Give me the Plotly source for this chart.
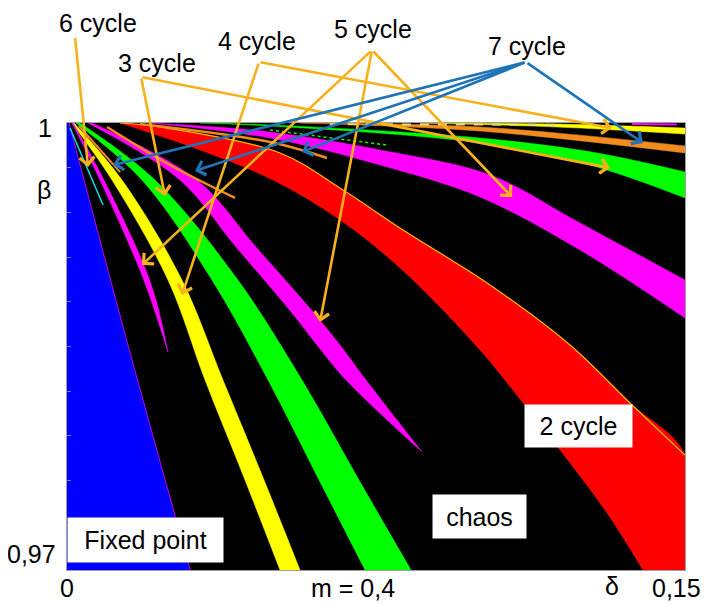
import plotly.graph_objects as go

# ---------------- data (delta, beta) ----------------
# Each region: upper/right boundary (a) and lower/left boundary (b), listed from top to bottom
fixed_a_d = [0.0005, 0.0145, 0.0299]
fixed_a_b = [1.0, 0.9854, 0.97]
fixed_b_d = [0.0, 0.0]
fixed_b_b = [1.0, 0.97]

c3_a_d = [0.0017, 0.01335, 0.02791, 0.03786, 0.04782, 0.05655]
c3_a_b = [1.0, 0.99617, 0.98946, 0.98275, 0.97604, 0.97]
c3_b_d = [0.00121, 0.01092, 0.02451, 0.0335, 0.0432, 0.0517]
c3_b_b = [1.0, 0.99617, 0.98946, 0.98275, 0.97604, 0.97]

c4_a_d = [0.00316, 0.02136, 0.0415, 0.05704, 0.07087, 0.0835]
c4_a_b = [1.0, 0.99617, 0.98946, 0.98275, 0.97604, 0.97]
c4_b_d = [0.00218, 0.0182, 0.03519, 0.04879, 0.06117, 0.07233]
c4_b_b = [1.0, 0.99617, 0.98946, 0.98275, 0.97604, 0.97]

c5s_a_d = [0.00146, 0.00898, 0.01845, 0.0216, 0.02451]
c5s_a_b = [1.0, 0.99617, 0.9906, 0.98812, 0.98463]
c5s_b_d = [0.00121, 0.00801, 0.01699, 0.02039, 0.02451]
c5s_b_b = [1.0, 0.99617, 0.9906, 0.98812, 0.98463]

c5m_a_d = [0.00607, 0.03155, 0.04587, 0.05995, 0.06626, 0.07257, 0.08617]
c5m_a_b = [1.0, 0.99617, 0.99168, 0.98725, 0.9851, 0.98275, 0.97792]
c5m_b_d = [0.0051, 0.02743, 0.04102, 0.05461, 0.06068, 0.06772, 0.08617]
c5m_b_b = [1.0, 0.99617, 0.99168, 0.98725, 0.9851, 0.98275, 0.97792]

c2_a_d = [0.01286, 0.02257, 0.0517, 0.06699, 0.08155, 0.10267, 0.12209, 0.13665, 0.15, 0.15]
c2_a_b = [1.0, 0.99973, 0.99799, 0.9955, 0.99282, 0.98913, 0.9851, 0.98121, 0.97772, 0.97]
c2_b_d = [0.01286, 0.03228, 0.05, 0.06626, 0.08083, 0.10024, 0.11068, 0.11966, 0.13107, 0.1398]
c2_b_b = [1.0, 0.99819, 0.99617, 0.99349, 0.99027, 0.98477, 0.98121, 0.97805, 0.97383, 0.97]

c5r_a_d = [0.02015, 0.04927, 0.07597, 0.10267, 0.12451, 0.15]
c5r_a_b = [1.0, 0.9994, 0.99819, 0.99651, 0.99329, 0.98946]
c5r_b_d = [0.02015, 0.04927, 0.07597, 0.10024, 0.12451, 0.15]
c5r_b_b = [1.0, 0.99899, 0.99718, 0.99503, 0.99148, 0.98691]

c4r_a_d = [0.03228, 0.04927, 0.10024, 0.12864, 0.15]
c4r_a_b = [1.0, 0.99987, 0.99899, 0.99799, 0.99671]
c4r_b_d = [0.03228, 0.04927, 0.10024, 0.12694, 0.15]
c4r_b_b = [1.0, 0.9998, 0.99866, 0.99718, 0.99497]

c7r_a_d = [0.05655, 0.10024, 0.15]
c7r_a_b = [1.0, 0.99973, 0.99846]
c7r_b_d = [0.05655, 0.10024, 0.15]
c7r_b_b = [1.0, 0.99946, 0.99799]

c3r_a_d = [0.08568, 0.11893, 0.15]
c3r_a_b = [1.0, 0.99993, 0.99966]
c3r_b_d = [0.08568, 0.11893, 0.15]
c3r_b_b = [1.0, 0.99973, 0.99926]

# thin curves
o1_d = [0.0029, 0.0129]
o1_b = [0.9998, 0.9967]
o2_d = [0.00971, 0.025, 0.04078]
o2_b = [0.99973, 0.99718, 0.99497]
o3_d = [0.01772, 0.04927, 0.06311]
o3_b = [0.99993, 0.99872, 0.99765]
cy_d = [0.00073, 0.00874]
cy_b = [0.99966, 0.9945]
ydash_d = [0.0638, 0.1196]
ydash_b = [0.99992, 0.99988]
mdash_d = [0.1371, 0.148]
mdash_b = [0.99993, 0.99990]
gdash_d = [0.04927, 0.07767]
gdash_b = [0.99953, 0.99852]

BLUE = "#0000FF"
YELLOW = "#FFFF00"
GREEN = "#00FF00"
MAGENTA = "#FF00FF"
RED = "#FF0000"
ORANGE = "#F28C1E"
CYAN = "#00E5E5"
ARROW_OR = "#F7B21B"
ARROW_BL = "#1F73B7"

fig = go.Figure()


def band(ad, ab, bd, bb, color, shape="spline"):
    # lower/left edge first, then upper/right edge filled back to it
    fig.add_trace(go.Scatter(x=bd, y=bb, mode="lines",
                             line=dict(color=color, width=0.5, shape=shape, smoothing=1.0),
                             hoverinfo="skip", showlegend=False))
    fig.add_trace(go.Scatter(x=ad, y=ab, mode="lines", fill="tonexty", fillcolor=color,
                             line=dict(color=color, width=0.5, shape=shape, smoothing=1.0),
                             hoverinfo="skip", showlegend=False))


def thin(d, b, color, width=2.5, dash="solid"):
    fig.add_trace(go.Scatter(x=d, y=b, mode="lines",
                             line=dict(color=color, width=width, dash=dash, shape="spline"),
                             hoverinfo="skip", showlegend=False))


band(fixed_a_d, fixed_a_b, fixed_b_d, fixed_b_b, BLUE, "linear")
band(c3_a_d, c3_a_b, c3_b_d, c3_b_b, YELLOW)
band(c4_a_d, c4_a_b, c4_b_d, c4_b_b, GREEN)
band(c5s_a_d, c5s_a_b, c5s_b_d, c5s_b_b, MAGENTA)
band(c5m_a_d, c5m_a_b, c5m_b_d, c5m_b_b, MAGENTA)
band(c2_a_d, c2_a_b, c2_b_d, c2_b_b, RED)
band(c5r_a_d, c5r_a_b, c5r_b_d, c5r_b_b, MAGENTA)
band(c4r_a_d, c4r_a_b, c4r_b_d, c4r_b_b, GREEN)
band(c7r_a_d, c7r_a_b, c7r_b_d, c7r_b_b, ORANGE)
band(c3r_a_d, c3r_a_b, c3r_b_d, c3r_b_b, YELLOW)

thin(c2_a_d[:-1], c2_a_b[:-1], "#F5B800", width=1.2)
thin(fixed_a_d, fixed_a_b, "#C000C0", width=1)
thin(o1_d, o1_b, ORANGE, 2)
thin(o2_d, o2_b, ORANGE, 2.5)
thin(o3_d, o3_b, ORANGE, 2.5)
thin(cy_d, cy_b, CYAN, 1.5)
thin(ydash_d, ydash_b, "#E8E070", 2, "dash")
thin(mdash_d, mdash_b, MAGENTA, 2)
thin(gdash_d, gdash_b, GREEN, 1.5, "dot")

# ---------------- layout helpers ----------------
# page offset of the figure inside the browser page (body margin)
OFF = 8
FIG_W, FIG_H = 709 - OFF, 604 - OFF
L, R, T, B = 67, 685, 123, 570  # plot area in page pixels


def P(px, py):
    return (px - L) / (R - L), (B - py) / (B - T)


FONT = dict(family="Liberation Sans, Arial, sans-serif", size=25, color="black")
anns = []


def text(s, px, py, box=None, xanchor="center"):
    x, y = P(px, py)
    a = dict(text=s, x=x, y=y, xref="paper", yref="paper", showarrow=False,
             xanchor=xanchor, yanchor="middle", font=FONT)
    if box:
        a.update(bgcolor="white", width=box[0], height=box[1], borderpad=0)
    anns.append(a)


for s, px, py in [("6 cycle", 98, 23), ("3 cycle", 157, 63), ("4 cycle", 257, 41),
                  ("5 cycle", 373, 29), ("7 cycle", 527, 46),
                  ("1", 45, 128), ("β", 44, 190), ("0,97", 31, 554),
                  ("0", 67, 588), ("m = 0,4", 353, 588), ("δ", 612, 586)]:
    text(s, px, py)
text("0,15", 703, 588, xanchor="right")

text("Fixed point", 145, 540, (155, 44))
text("chaos", 479, 516, (93, 43))
text("2 cycle", 578, 426, (107, 42))


def arrow(tail, head, color):
    anns.append(dict(text="", x=head[0], y=head[1], xref="x", yref="y",
                     ax=tail[0], ay=tail[1], axref="x", ayref="y",
                     showarrow=True, arrowhead=4, arrowsize=1.1, arrowwidth=2.6,
                     arrowcolor=color, standoff=0, startstandoff=0))


apex6 = (0.00194, 1.0058)
apex3 = (0.01796, 1.00309)
apex4 = (0.0466, 1.00409)
apex5 = (0.07403, 1.0049)
apex7 = (0.11141, 1.00409)

arrow(apex6, (0.0051, 0.99705), ARROW_OR)
arrow(apex3, (0.02379, 0.9951), ARROW_OR)
arrow(apex3, (0.1318, 0.99698), ARROW_OR)
arrow(apex4, (0.02791, 0.98846), ARROW_OR)
arrow(apex4, (0.13228, 0.99966), ARROW_OR)
arrow(apex5, (0.0182, 0.99047), ARROW_OR)
arrow(apex5, (0.06141, 0.98664), ARROW_OR)
arrow(apex5, (0.10801, 0.99503), ARROW_OR)
arrow(apex7, (0.01117, 0.99718), ARROW_BL)
arrow(apex7, (0.03107, 0.99678), ARROW_BL)
arrow(apex7, (0.05704, 0.99805), ARROW_BL)
arrow(apex7, (0.1398, 0.99866), ARROW_BL)

fig.update_layout(
    width=FIG_W, height=FIG_H,
    margin=dict(l=L - OFF, r=FIG_W - (R - OFF), t=T - OFF, b=FIG_H - (B - OFF)),
    paper_bgcolor="white", plot_bgcolor="black",
    showlegend=False,
    annotations=anns,
    xaxis=dict(range=[0, 0.15], showgrid=False, zeroline=False, showticklabels=False,
               ticks="", showline=True, mirror=True, linecolor="#A0A0A0", linewidth=1),
    yaxis=dict(range=[0.97, 1.0], showgrid=False, zeroline=False, showticklabels=False,
               ticks="inside", tick0=0.97, dtick=0.003, ticklen=4, tickcolor="#8080A0",
               showline=True, mirror=True, linecolor="#A0A0A0", linewidth=1),
)

fig.write_html("out.html")
